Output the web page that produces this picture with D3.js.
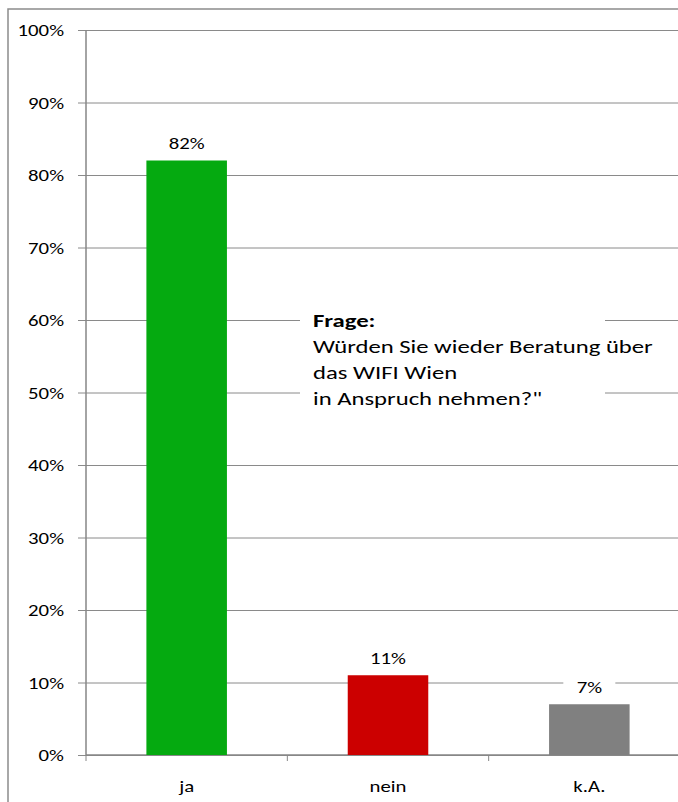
<!DOCTYPE html>
<html>
<head>
<meta charset="utf-8">
<script src="https://cdn.jsdelivr.net/npm/d3@7"></script>
<style>
  body { margin: 0; background: #fff; }
  text { font-family: Carlito, Lato, "Open Sans", sans-serif; fill: #000; }
</style>
</head>
<body>
<div id="chart"></div>
<script>
// data
var categories = ["ja", "nein", "k.A."];
var values = [0.82, 0.11, 0.07];
var colors = ["#05aa10", "#cc0000", "#808080"];
var yTicks = [0, 0.1, 0.2, 0.3, 0.4, 0.5, 0.6, 0.7, 0.8, 0.9, 1.0];
var noteTitle = "Frage:";
var noteLines = ["Würden Sie wieder Beratung über", "das WIFI Wien", "in Anspruch nehmen?\""];

var W = 678, H = 802;
var stretch = 1.3; // the reference text is drawn horizontally widened
var margin = {top: 30, right: -12, bottom: 47, left: 86},
  width = W - margin.left - margin.right,
  height = H - margin.top - margin.bottom;

var svg = d3.select("#chart").append("svg")
  .attr("width", W)
  .attr("height", H);

function at(px, py) {
  return "translate(" + px + "," + py + ") scale(" + stretch + ",1)";
}

// outer chart frame (cropped at right and bottom)
svg.append("path")
  .attr("d", "M8," + H + "V9H" + W)
  .attr("fill", "none")
  .attr("stroke", "#8c8c8c")
  .attr("stroke-width", 1.5);

var g = svg.append("g")
  .attr("transform", "translate(" + margin.left + "," + margin.top + ")");

var x = d3.scaleBand()
  .domain(categories)
  .range([0, width])
  .paddingInner(0.6)
  .paddingOuter(0.3);

var y = d3.scaleLinear()
  .domain([0, 1])
  .range([height, 0]);

// gridlines + y axis
var yAxis = g.append("g")
  .call(d3.axisLeft(y)
    .tickValues(yTicks)
    .tickSize(-width)
    .tickFormat(d3.format(".0%")));
yAxis.select(".domain").remove();
yAxis.selectAll(".tick line")
  .attr("x1", -8)
  .attr("stroke", "#8a8a8a");
yAxis.selectAll(".tick text")
  .attr("x", null)
  .attr("dy", null)
  .attr("transform", at(-22, 5.5))
  .style("font-size", "16px");

g.append("line")
  .attr("x1", 0).attr("x2", 0)
  .attr("y1", 0).attr("y2", height)
  .attr("stroke", "#868686")
  .attr("stroke-width", 1.5);

// x axis with ticks between categories
var step = x.step();
var xTickPos = d3.range(categories.length + 1).map(function(i) { return i * step; });
var xAxis = g.append("g")
  .attr("transform", "translate(0," + height + ")");
xAxis.append("line")
  .attr("x1", 0).attr("x2", width)
  .attr("stroke", "#868686")
  .attr("stroke-width", 1.5);
xAxis.selectAll(".xtick").data(xTickPos).enter().append("line")
  .attr("class", "xtick")
  .attr("x1", function(d) { return d; })
  .attr("x2", function(d) { return d; })
  .attr("y1", 0).attr("y2", 6)
  .attr("stroke", "#868686");
xAxis.selectAll(".xlabel").data(categories).enter().append("text")
  .attr("class", "xlabel")
  .attr("transform", function(d) { return at(x(d) + x.bandwidth() / 2, 37); })
  .attr("text-anchor", "middle")
  .style("font-size", "16px")
  .text(function(d) { return d; });

// bars
var data = categories.map(function(c, i) { return {cat: c, v: values[i], color: colors[i]}; });

g.selectAll(".bar").data(data).enter().append("rect")
  .attr("class", "bar")
  .attr("x", function(d) { return x(d.cat); })
  .attr("y", function(d) { return y(d.v); })
  .attr("width", x.bandwidth())
  .attr("height", function(d) { return height - y(d.v); })
  .attr("fill", function(d) { return d.color; });

// value labels with white background
var labels = g.selectAll(".vlabel").data(data).enter().append("g")
  .attr("class", "vlabel")
  .attr("transform", function(d) {
    return "translate(" + (x(d.cat) + x.bandwidth() / 2) + "," + (y(d.v) - 17) + ")";
  });
labels.append("rect")
  .attr("x", -26).attr("y", -11)
  .attr("width", 52).attr("height", 22)
  .attr("fill", "#fff");
labels.append("text")
  .attr("text-anchor", "middle")
  .attr("transform", at(0, 5.5))
  .style("font-size", "16px")
  .text(function(d) { return d3.format(".0%")(d.v); });

// question note
var note = svg.append("g").attr("transform", "translate(313,0)");
note.append("rect")
  .attr("x", -13).attr("y", 305)
  .attr("width", 305).attr("height", 110)
  .attr("fill", "#fff");
note.append("text")
  .attr("transform", at(0, 327))
  .style("font-size", "19px")
  .style("font-weight", "bold")
  .text(noteTitle);
note.selectAll(".nline").data(noteLines).enter().append("text")
  .attr("class", "nline")
  .attr("transform", function(d, i) { return at(0, 353 + i * 26); })
  .style("font-size", "19px")
  .text(function(d) { return d; });
</script>
</body>
</html>
